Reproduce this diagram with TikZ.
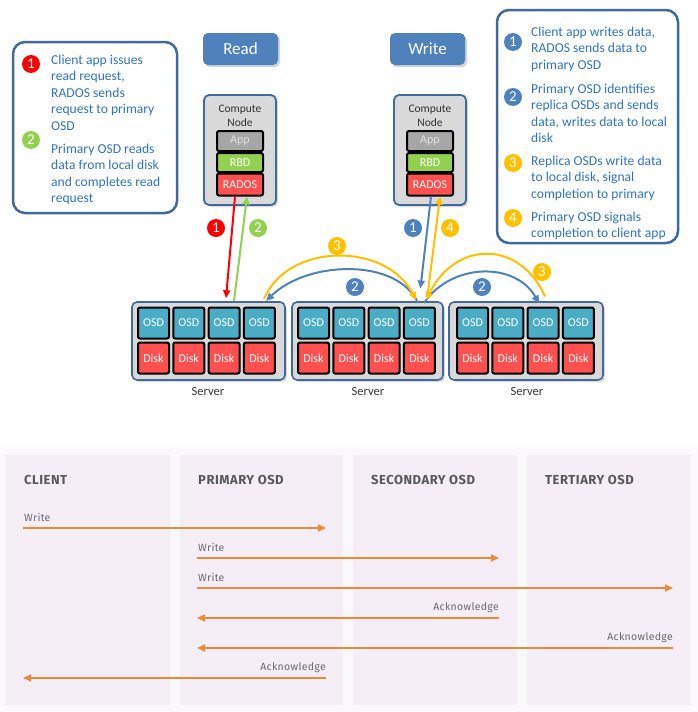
\documentclass[tikz,border=0pt]{standalone}
\usepackage{fontspec}
\setmainfont{Carlito}
\newfontfamily\rhfont{Fira Sans}
\usetikzlibrary{arrows.meta,shadows,calc}
\definecolor{txtblue}{RGB}{46,117,190}
\definecolor{frameblue}{RGB}{65,105,155}
\definecolor{btnblue}{RGB}{79,129,189}
\definecolor{cngray}{RGB}{217,217,217}
\definecolor{appgray}{RGB}{166,166,166}
\definecolor{rbdgreen}{RGB}{146,208,80}
\definecolor{radred}{RGB}{255,80,80}
\definecolor{osdcyan}{RGB}{75,172,198}
\definecolor{arrred}{RGB}{255,0,0}
\definecolor{arrgreen}{RGB}{146,208,80}
\definecolor{arrblue}{RGB}{79,129,189}
\definecolor{arryellow}{RGB}{255,192,0}
\definecolor{lanefill}{RGB}{245,238,246}
\definecolor{outerfill}{RGB}{251,248,251}
\definecolor{hdrgray}{RGB}{88,89,91}
\definecolor{seqorange}{RGB}{236,138,58}
\tikzset{
  infobox/.style={draw=frameblue, line width=2.5pt, rounded corners=12pt, fill=white, inner sep=0pt},
  infotext/.style={text=txtblue, font=\fontsize{13.6}{16.5}\selectfont, align=left, anchor=north west, inner sep=0pt},
  btn/.style={fill=btnblue, rounded corners=5pt, text=white, font=\fontsize{17}{19}\selectfont,
    minimum width=75pt, minimum height=32pt, inner sep=0pt, drop shadow={shadow xshift=2pt, shadow yshift=-2pt, opacity=0.35}},
  cnode/.style={fill=cngray, draw=frameblue, line width=1.8pt, rounded corners=5pt, minimum width=72pt, minimum height=110pt, inner sep=0pt,
    drop shadow={shadow xshift=2pt, shadow yshift=-2pt, opacity=0.3}},
  layer/.style={draw=black, line width=2pt, rounded corners=2pt, minimum width=46pt, inner sep=0pt, text=white, font=\fontsize{12}{13}\selectfont},
  server/.style={fill=cngray, draw=frameblue, line width=1.6pt, rounded corners=5pt, minimum height=78pt, inner sep=0pt,
    drop shadow={shadow xshift=2pt, shadow yshift=-2pt, opacity=0.3}},
  cell/.style={draw=black, line width=2pt, rounded corners=2pt, minimum width=31pt, minimum height=31pt, inner sep=0pt,
    text=white, font=\fontsize{12}{13}\selectfont},
  badge/.style={circle, fill=#1, text=white, minimum size=18pt, inner sep=0pt, font=\fontsize{15}{15}\selectfont},
  flow/.style={line width=2pt, draw=#1, -{Triangle[length=8pt,width=7pt]}},
  lane/.style={fill=lanefill, minimum width=164pt, minimum height=250pt, inner sep=0pt},
  hdr/.style={anchor=base west, inner sep=0pt, text=hdrgray, font=\rhfont\bfseries\fontsize{13}{15}\selectfont\addfontfeatures{LetterSpace=4}},
  msg/.style={inner sep=0pt, text=hdrgray!90, font=\rhfont\fontsize{10.5}{12}\selectfont\addfontfeatures{LetterSpace=3}},
  seq/.style={draw=seqorange, line width=1.6pt, -{Triangle[length=8pt,width=7pt]}}
}
\begin{document}
\begin{tikzpicture}[x=1pt,y=-1pt]
\useasboundingbox[fill=white] (0,0) rectangle (698,712);

% ---------- left info box (read) ----------
\node[infobox, minimum width=164pt, minimum height=171pt] (lbox) at (95,127.5) {};
\node[badge=arrred] (lb1) at (31,64) {1};
\node[badge=arrgreen] (lb2) at (31,140) {2};
\node[infotext] (lt1) at (51,54.5) {Client app issues\\read request,\\RADOS sends\\request to primary\\OSD};
\node[infotext] (lt2) at (51,143.5) {Primary OSD reads\\data from local disk\\and completes read\\request};

% ---------- right info box (write) ----------
\node[infobox, minimum width=181pt, minimum height=233pt] (rbox) at (587.5,126.5) {};
\node[badge=arrblue] (rb1) at (513,42) {1};
\node[badge=arrblue] (rb2) at (513,97) {2};
\node[badge=arryellow] (rb3) at (513,163) {3};
\node[badge=arryellow] (rb4) at (513,218) {4};
\node[infotext] (rt1) at (531,26.5) {Client app writes data,\\RADOS sends data to\\primary OSD};
\node[infotext] (rt2) at (531,83.5) {Primary OSD identifies\\replica OSDs and sends\\data, writes data to local\\disk};
\node[infotext] (rt3) at (531,155.5) {Replica OSDs write data\\to local disk, signal\\completion to primary};
\node[infotext] (rt4) at (531,211.5) {Primary OSD signals\\completion to client app};

% ---------- buttons ----------
\node[btn] (readbtn) at (240.5,49) {Read};
\node[btn] (writebtn) at (427.5,49) {Write};

% ---------- compute nodes ----------
\foreach \n/\cx in {r/240, w/430}{
  \node[cnode] (cn\n) at (\cx,150) {};
  \node[inner sep=0pt, align=center, text=black!80, font=\fontsize{11.5}{14}\selectfont] (cnl\n) at (\cx,116) {Compute\\Node};
  \node[layer, fill=appgray, minimum height=20pt, text=white!88!black] (app\n) at (\cx,141) {App};
  \node[layer, fill=rbdgreen, minimum height=19pt] (rbd\n) at (\cx,162.5) {RBD};
  \node[layer, fill=radred, minimum height=22pt] (rados\n) at (\cx,184.5) {RADOS};
}

% ---------- servers ----------
\node[server, minimum width=153pt] (s1) at (208.5,341) {};
\node[server, minimum width=151pt] (s2) at (367.5,341) {};
\node[server, minimum width=154pt] (s3) at (526,341) {};
\foreach \s/\fx in {1/153.5, 2/313.5, 3/472.5}{
  \foreach \k in {1,...,4}{
    \node[cell, fill=osdcyan] (s\s o\k) at ({\fx+(\k-1)*35.3},323) {OSD};
    \node[cell, fill=radred] (s\s d\k) at ({\fx+(\k-1)*35.3},358) {Disk};
  }
}
\foreach \s/\cx in {1/208, 2/368, 3/527}{
  \node[inner sep=0pt, text=black!80, font=\fontsize{12.5}{14}\selectfont] (sl\s) at (\cx,391) {Server};
}

% ---------- read flow ----------
\coordinate (redend) at ($(s1.north)+(17.5,-3)$);
\coordinate (greenstart) at ($(s1.north)+(25.5,0)$);
\draw[flow=arrred] ([xshift=-5pt]radosr.south) -- (redend);
\draw[flow=arrgreen] (greenstart) -- ([xshift=7pt]radosr.south);
\node[badge=arrred] (rd1) at (216,228) {1};
\node[badge=arrgreen] (rd2) at (258,228) {2};

% ---------- write flow ----------
\coordinate (blue1end) at ($(s2o4.north)+(1,-18)$);
\coordinate (y4start) at ($(s2o4.north)+(8,-10)$);
\draw[flow=arrblue] ([xshift=1pt]radosw.south) -- (blue1end);
\draw[flow=arryellow] (y4start) -- ([xshift=10pt]radosw.south);
\node[badge=arrblue] (wd1) at (413,228) {1};
\node[badge=arryellow] (wd4) at (450,228) {4};

% replication arcs
\coordinate (s1tr) at (266,301);
\coordinate (s1ty) at (264,299);
\coordinate (p2l) at (418,303);
\coordinate (p3l) at (416,300);
\coordinate (p2r) at (424,303);
\coordinate (p3r) at (426,300);
\coordinate (s3tb) at ($(s3o3.north)+(-4,-3)$);
\coordinate (s3ty) at ($(s3o3.north)+(2,-10)$);
\draw[flow=arrblue] (p2l) .. controls (398,258) and (308,260) .. (s1tr);
\draw[flow=arryellow] (s1ty) .. controls (288,242) and (386,242) .. (p3l);
\draw[flow=arrblue] (p2r) .. controls (452,262) and (516,262) .. (s3tb);
\draw[flow=arryellow] (s3ty) .. controls (520,240) and (456,240) .. (p3r);
\node[badge=arrblue] (a2l) at (355,287) {2};
\node[badge=arryellow] (a3l) at (337,246) {3};
\node[badge=arrblue] (a2r) at (482,287) {2};
\node[badge=arryellow] (a3r) at (542,272) {3};

% ---------- sequence diagram ----------
\fill[outerfill] (0,447) rectangle (698,712);
\node[lane, minimum width=165pt] (lane1) at (87.5,580) {};
\node[lane, minimum width=163pt] (lane2) at (261.5,580) {};
\node[lane] (lane3) at (435,580) {};
\node[lane] (lane4) at (609,580) {};
\node[hdr] (h1) at (24,484.5) {CLIENT};
\node[hdr] (h2) at (198,484.5) {PRIMARY OSD};
\node[hdr] (h3) at (371,484.5) {SECONDARY OSD};
\node[hdr] (h4) at (545,484.5) {TERTIARY OSD};

\coordinate (cA) at (23,528);  \coordinate (pA) at (326,528);
\coordinate (pB) at (197,558); \coordinate (sB) at (499,558);
\coordinate (pC) at (197,588); \coordinate (tC) at (673,588);
\coordinate (sD) at (499,618); \coordinate (pD) at (197,618);
\coordinate (tE) at (673,648); \coordinate (pE) at (197,648);
\coordinate (pF) at (326,678); \coordinate (cF) at (23,678);
\draw[seq] (cA) -- (pA);
\draw[seq] (pB) -- (sB);
\draw[seq] (pC) -- (tC);
\draw[seq] (sD) -- (pD);
\draw[seq] (tE) -- (pE);
\draw[seq] (pF) -- (cF);
\node[msg, anchor=base west] (m1) at ($(cA)+(1,-7)$) {Write};
\node[msg, anchor=base west] (m2) at ($(pB)+(1,-7)$) {Write};
\node[msg, anchor=base west] (m3) at ($(pC)+(1,-7)$) {Write};
\node[msg, anchor=base east] (m4) at ($(sD)+(0,-8)$) {Acknowledge};
\node[msg, anchor=base east] (m5) at ($(tE)+(0,-8)$) {Acknowledge};
\node[msg, anchor=base east] (m6) at ($(pF)+(0,-8)$) {Acknowledge};
\end{tikzpicture}
\end{document}
